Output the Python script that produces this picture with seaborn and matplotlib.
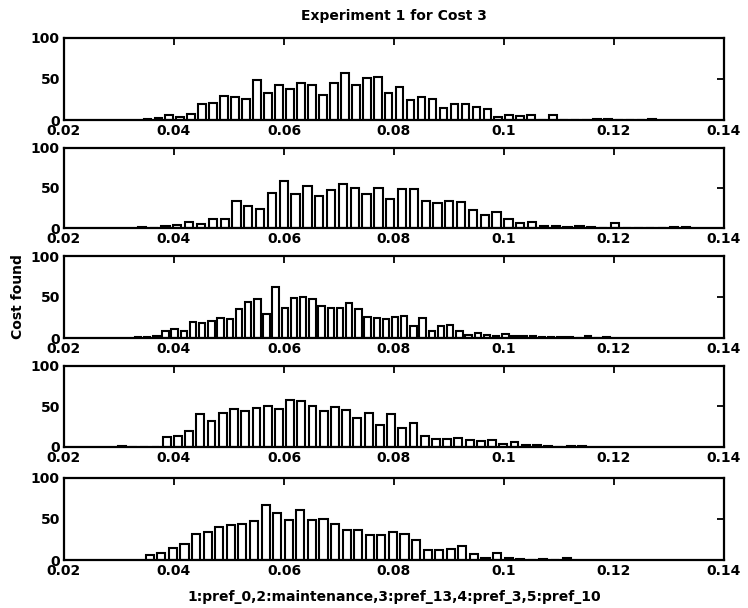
import numpy as np
import pandas as pd
import seaborn as sns
import matplotlib.pyplot as plt

# ---- data: histogram counts per panel (first bin centre, bin width, counts) ----
p1_start, p1_width = 0.03516, 0.001994
p1_counts = [1, 2, 6, 4, 7, 20, 21, 29, 28, 25, 49, 33, 42, 38, 45, 42, 30, 45, 57, 43,
             51, 52, 33, 40, 24, 28, 25, 14, 19, 20, 16, 13, 4, 6, 5, 6, 0, 6, 0, 0,
             0, 1, 1, 0, 0, 0, 1]

p2_start, p2_width = 0.03416, 0.00215
p2_counts = [1, 0, 2, 4, 7, 5, 11, 11, 33, 27, 23, 43, 58, 42, 52, 40, 47, 55, 50, 42,
             50, 36, 49, 48, 34, 31, 33, 32, 22, 16, 20, 11, 6, 7, 2, 3, 1, 3, 1, 0,
             6, 0, 0, 0, 0, 1, 1]

p3_start, p3_width = 0.03344, 0.00167
p3_counts = [1, 1, 2, 8, 11, 9, 20, 18, 21, 24, 23, 35, 44, 47, 29, 62, 37, 49, 50, 47,
             39, 36, 37, 43, 35, 26, 25, 23, 26, 27, 15, 24, 9, 15, 16, 9, 4, 6, 4, 2,
             5, 2, 2, 2, 1, 1, 1, 1, 0, 2, 0, 1]

p4_start, p4_width = 0.03051, 0.00204
p4_counts = [1, 0, 0, 0, 12, 13, 20, 40, 32, 42, 47, 44, 48, 50, 47, 58, 57, 50, 44, 49,
             46, 36, 42, 27, 41, 23, 30, 13, 10, 10, 11, 9, 7, 8, 4, 6, 2, 2, 1, 0,
             1, 1]

p5_start, p5_width = 0.0356, 0.002105
p5_counts = [6, 9, 15, 19, 31, 34, 40, 43, 44, 47, 67, 57, 48, 61, 48, 50, 44, 36, 36, 30,
             30, 34, 31, 24, 12, 12, 13, 17, 7, 3, 8, 3, 1, 0, 1, 0, 2]

x_ticks = [0.02, 0.04, 0.06, 0.08, 0.1, 0.12, 0.14]
x_tick_labels = ["0.02", "0.04", "0.06", "0.08", "0.1", "0.12", "0.14"]
y_ticks = [0, 50, 100]
y_tick_labels = ["0", "50", "100"]

title = "Experiment 1 for Cost 3"
y_label = "Cost found"
x_label = "1:pref_0,2:maintenance,3:pref_13,4:pref_3,5:pref_10"

panels = [(p1_start, p1_width, p1_counts), (p2_start, p2_width, p2_counts),
          (p3_start, p3_width, p3_counts), (p4_start, p4_width, p4_counts),
          (p5_start, p5_width, p5_counts)]

# ---- style ----
sns.set_theme(style="white")
plt.rcParams['font.family'] = ['DejaVu Sans']
plt.rcParams['font.weight'] = 'bold'
plt.rcParams['text.color'] = 'black'
FS = 10

W, H = 748, 608
fig = plt.figure(figsize=(W / 100, H / 100), dpi=100)
fig.patch.set_facecolor('white')

left_px, right_px = 64, 724
tops = [37.5, 147.5, 256, 365.5, 477.5]
bottoms = [120, 228, 338, 447, 560]

for (start, width, counts), top, bot in zip(panels, tops, bottoms):
    ax = fig.add_axes([left_px / W, 1 - bot / H, (right_px - left_px) / W, (bot - top) / H])
    n = len(counts)
    centers = np.round(start + width * np.arange(n), 6)
    df = pd.DataFrame({"cost": centers, "count": counts})
    sns.barplot(data=df, x="cost", y="count", native_scale=True, width=0.7,
                color="white", saturation=1, edgecolor="black", linewidth=1.5,
                errorbar=None, ax=ax)
    ax.set_xlim(0.02, 0.14)
    ax.set_ylim(0, 100)
    ax.set_xticks(x_ticks)
    ax.set_xticklabels(x_tick_labels)
    ax.set_yticks(y_ticks)
    ax.set_yticklabels(y_tick_labels)
    ax.set_xlabel("")
    ax.set_ylabel("")
    ax.set_facecolor("white")
    ax.tick_params(direction="in", top=True, right=True, length=5, width=1.3,
                   labelsize=FS, pad=3, colors="black", labelcolor="black")
    for s in ax.spines.values():
        s.set_visible(True)
        s.set_color("black")
        s.set_linewidth(1.6)

fig.text((left_px + right_px) / 2 / W, 1 - 16 / H, title, ha="center", va="center",
         fontsize=FS, fontweight="bold", color="black")
fig.text(18 / W, 1 - 297 / H, y_label, ha="center", va="center", rotation=90,
         fontsize=FS, fontweight="bold", color="black")
fig.text((left_px + right_px) / 2 / W, 1 - 597 / H, x_label, ha="center", va="center",
         fontsize=FS, fontweight="bold", color="black")

fig.savefig("out.png", dpi=100, facecolor="white")
